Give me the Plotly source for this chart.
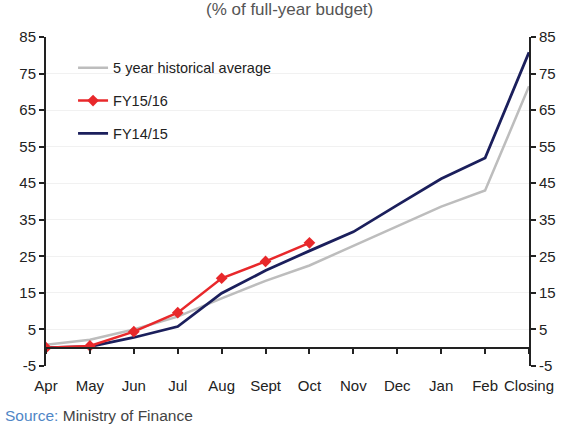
import plotly.graph_objects as go

months = ["Apr", "May", "Jun", "Jul", "Aug", "Sept", "Oct", "Nov", "Dec", "Jan", "Feb", "Closing"]
hist_avg = [0.8, 2.2, 5.0, 8.5, 13.5, 18.3, 22.5, 27.8, 33.2, 38.6, 43.0, 71.5]
fy1516 = [0.0, 0.5, 4.4, 9.6, 19.0, 23.6, 28.7]
fy1415 = [0.0, 0.3, 2.8, 5.8, 14.9, 21.1, 26.5, 31.7, 39.0, 46.2, 51.9, 80.8]
y_ticks = [-5, 5, 15, 25, 35, 45, 55, 65, 75, 85]
y_tick_labels = ["-5", "5", "15", "25", "35", "45", "55", "65", "75", "85"]

GREY = "#bdbdbd"
RED = "#e8282b"
NAVY = "#1b1f5c"
FONT = "Liberation Sans, Arial, sans-serif"

fig = go.Figure()
fig.add_trace(go.Scatter(x=months, y=hist_avg, mode="lines", name="5 year historical average",
                         line=dict(color=GREY, width=2.5), legendrank=1, legendgroup="a"))
fig.add_trace(go.Scatter(x=months, y=fy1415, mode="lines", name="FY14/15",
                         line=dict(color=NAVY, width=2.8), legendrank=3, legendgroup="c"))
fig.add_trace(go.Scatter(x=months[:len(fy1516)], y=fy1516, mode="lines+markers", name="FY15/16",
                         line=dict(color=RED, width=2.5),
                         marker=dict(symbol="diamond", size=9, color=RED),
                         legendrank=2, legendgroup="b"))
# dummy trace to render the right-hand axis
fig.add_trace(go.Scatter(x=months, y=fy1415, yaxis="y2", mode="lines", opacity=0,
                         line=dict(width=0), showlegend=False, hoverinfo="skip"))

zero_pos = (0 - (-5)) / 90.0

axis_common = dict(showline=True, linecolor="#222222", linewidth=2, ticks="outside",
                   ticklen=5, tickwidth=1.5, tickcolor="#222222", zeroline=False,
                   automargin=False, tickfont=dict(size=15, color="#222222"))

fig.update_layout(
    width=567, height=426,
    margin=dict(l=46, r=38, t=37, b=60),
    paper_bgcolor="white", plot_bgcolor="white",
    font=dict(family=FONT, size=13, color="#222222"),
    showlegend=True,
    legend=dict(x=0.056, y=0.955, xanchor="left", yanchor="top",
                bgcolor="rgba(0,0,0,0)", font=dict(size=14.5, color="#222222"),
                itemwidth=30, traceorder="grouped", tracegroupgap=11),
    xaxis=dict(type="category", range=[0, 11], anchor="free", position=zero_pos,
               ticklabelstandoff=19, showgrid=False, **axis_common),
    yaxis=dict(range=[-5, 85], tickvals=y_ticks, ticktext=y_tick_labels,
               showgrid=True, gridcolor="#f1f1f1", gridwidth=1, **axis_common),
    yaxis2=dict(range=[-5, 85], tickvals=y_ticks, ticktext=y_tick_labels, overlaying="y",
                side="right", matches="y", showgrid=False, **axis_common),
    annotations=[
        dict(text="(% of full-year budget)", x=0.505, xref="paper", y=(366 - 10) / 329.0,
             yref="paper", xanchor="center", yanchor="middle", showarrow=False,
             font=dict(family=FONT, size=17, color="#555555")),
        dict(text="<span style='color:#4f86c6'>Source:</span> Ministry of Finance",
             x=-0.09, xref="paper", y=(366 - 415) / 329.0, yref="paper",
             xanchor="left", yanchor="middle", showarrow=False,
             font=dict(family=FONT, size=15.5, color="#444444")),
    ],
)

fig.write_html("out.html", config={"displayModeBar": False},
               post_script="document.body.style.margin='0';document.body.style.padding='0';")
